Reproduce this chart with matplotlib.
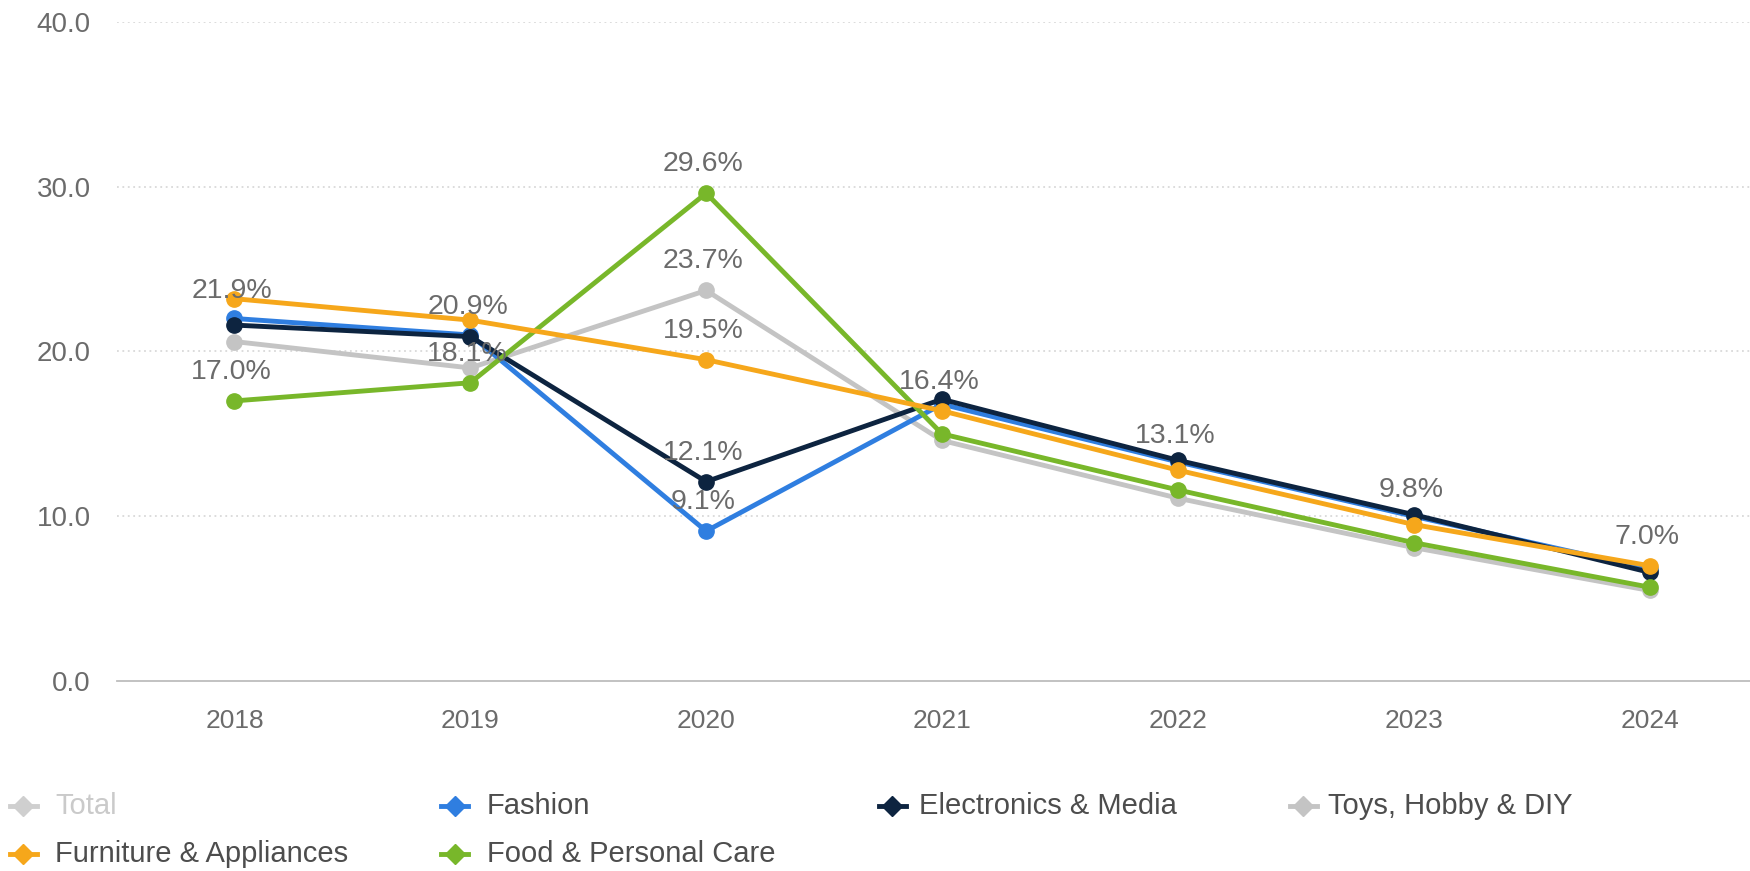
import matplotlib
matplotlib.use("Agg")
import matplotlib.pyplot as plt
from matplotlib.lines import Line2D

plt.rcParams['font.family'] = ['Liberation Sans', 'DejaVu Sans']

years = [2018, 2019, 2020, 2021, 2022, 2023, 2024]

fashion = [22.0, 21.0, 9.1, 16.8, 13.3, 10.0, 6.8]
electronics = [21.6, 20.9, 12.1, 17.1, 13.4, 10.1, 6.6]
toys = [20.6, 19.0, 23.7, 14.6, 11.1, 8.1, 5.5]
furniture = [23.2, 21.9, 19.5, 16.4, 12.8, 9.5, 7.0]
food = [17.0, 18.1, 29.6, 15.0, 11.6, 8.4, 5.7]

series_names = ["Total", "Fashion", "Electronics & Media", "Toys, Hobby & DIY",
                "Furniture & Appliances", "Food & Personal Care"]
series_colors = ["#cfcfcf", "#2f7ee0", "#0d2440", "#c4c4c4", "#f6a71b", "#78b72a"]

# data labels shown on the chart (year, value)
label_years = [2018, 2018, 2019, 2019, 2020, 2020, 2020, 2020, 2020, 2021, 2022, 2023, 2024]
label_values = [21.9, 17.0, 20.9, 18.1, 29.6, 23.7, 19.5, 12.1, 9.1, 16.4, 13.1, 9.8, 7.0]

yticks = [0, 10, 20, 30, 40]

fig = plt.figure(figsize=(17.5, 8.71), dpi=100)
ax = fig.add_axes([0.067, 0.218, 0.933, 0.757])
ax.set_xlim(2017.503, 2024.426)
ax.set_ylim(0, 40)

for y in yticks[1:]:
    ax.axhline(y, color="#d9d9d9", lw=1.3, ls=(0, (1, 2)), zorder=0)

plot_order = [(toys, 3), (fashion, 1), (electronics, 2), (food, 5), (furniture, 4)]
for data, idx in plot_order:
    ax.plot(years, data, color=series_colors[idx], lw=3.5, marker="o", ms=11,
            zorder=3, solid_joinstyle="round", clip_on=False)

for yr, v in zip(label_years, label_values):
    ax.annotate(f"{v:.1f}%", (yr, v), xytext=(-2, 21), textcoords="offset points",
                ha="center", va="center", fontsize=20.5, color="#6b6b6b", zorder=5)

for s in ["top", "right", "left"]:
    ax.spines[s].set_visible(False)
ax.spines["bottom"].set_color("#bdbdbd")
ax.spines["bottom"].set_linewidth(1.3)

ax.set_xticks(years)
ax.set_xticklabels([str(y) for y in years])
ax.set_yticks(yticks)
ax.set_yticklabels([f"{y:.1f}" for y in yticks])
ax.tick_params(axis="both", length=0, labelsize=19, labelcolor="#6b6b6b")
ax.tick_params(axis="y", labelsize=20, pad=19)
ax.tick_params(axis="x", pad=20)

# legend
leg_marker_x = [0.0057, 0.252, 0.502, 0.737, 0.0057, 0.252]
leg_text_x = [0.0314, 0.278, 0.525, 0.759, 0.0314, 0.278]
leg_y = [0.0745, 0.0745, 0.0745, 0.0745, 0.020, 0.020]
for i, name in enumerate(series_names):
    x0 = leg_marker_x[i]
    yy = leg_y[i]
    w = 27 / 1750
    fig.add_artist(Line2D([x0, x0 + w], [yy, yy], transform=fig.transFigure,
                          color=series_colors[i], lw=3.5))
    fig.add_artist(Line2D([x0 + w / 2], [yy], transform=fig.transFigure,
                          color=series_colors[i], marker="D", ms=10, lw=0))
    tc = "#cacaca" if i == 0 else "#4d4d4d"
    fig.text(leg_text_x[i], yy, name, fontsize=21, color=tc, va="center", ha="left")

fig.savefig("out.png", dpi=100, facecolor="white")
